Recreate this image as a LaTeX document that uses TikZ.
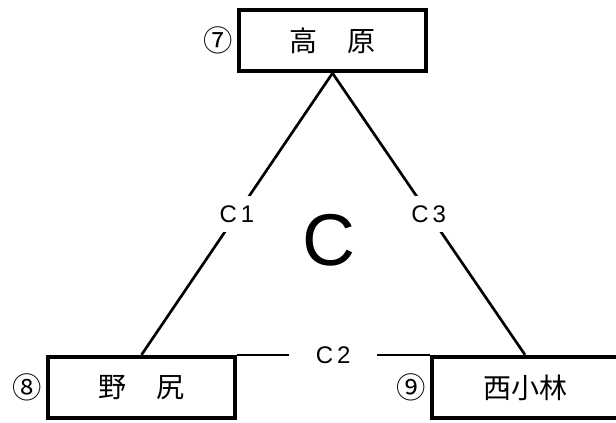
\documentclass[tikz,border=0pt]{standalone}
\usepackage{fontspec}
\setmainfont{Liberation Sans}
\newfontfamily\cjk{Noto Sans CJK JP}
\usepackage{tikz}
\usetikzlibrary{positioning}
\tikzstyle{station}=[draw,line width=3pt,minimum width=140pt,minimum height=46pt,inner sep=0pt,font=\cjk\fontsize{21}{21}\selectfont]
\tikzstyle{stationno}=[inner sep=3pt,font=\cjk\fontsize{22}{22}\selectfont]
\tikzstyle{route}=[line width=2pt]
\tikzstyle{routelabel}=[fill=white,inner sep=7pt,font=\fontsize{18}{18}\selectfont]

\begin{document}
\begin{tikzpicture}[x=0.75pt,y=-0.75pt]
\clip (0,0) rectangle (616,423);
\draw (332.5, 40.5) node [station, label={[stationno]left:⑦}] (takahara) {高\hspace{1.1em}原};
\draw (141.5, 387.5) node [station, label={[stationno]left:⑧}] (nojiri) {野\hspace{1.1em}尻};
\draw (525, 387.5) node [station, label={[stationno]left:⑨}] (nishikobayashi) {西小林};
\draw (329, 240) node [font=\fontsize{55}{55}\selectfont] (area) {C};
\draw[route] (takahara.south) -- (nojiri.north) node[routelabel, midway] (c1) {C\,1};
\draw[route] (nojiri.north east) -- (nishikobayashi.north west) node[routelabel, inner xsep=20pt, midway] (c2) {C\,2};
\draw[route] (takahara.south) -- (nishikobayashi.north) node[routelabel, midway] (c3) {C\,3};
\end{tikzpicture}
\end{document}
